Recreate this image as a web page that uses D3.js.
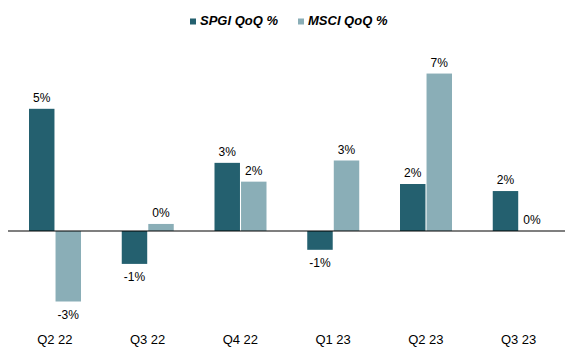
<!DOCTYPE html>
<html>
<head>
<meta charset="utf-8">
<script src="https://cdn.jsdelivr.net/npm/d3@7"></script>
<style>
  body { margin: 0; background: #fff; }
  svg text { font-family: "Liberation Sans", Arial, sans-serif; fill: #000; }
</style>
</head>
<body>
<div id="chart"></div>
<script>
// data (QoQ %)
var quarters = ["Q2 22", "Q3 22", "Q4 22", "Q1 23", "Q2 23", "Q3 23"];
var seriesNames = ["SPGI QoQ %", "MSCI QoQ %"];
var spgiValues = [5.2, -1.4, 2.9, -0.8, 2.0, 1.7];
var msciValues = [-3.0, 0.3, 2.1, 3.0, 6.7, 0.0];
var seriesColors = ["#24606f", "#8aaeb7"];

var width = 572, height = 352;

var svg = d3.select("#chart").append("svg")
    .attr("width", width)
    .attr("height", height);

var x0 = d3.scaleBand().domain(quarters).range([8.5, 565]);
var x1 = d3.scaleBand().domain(seriesNames).range([20.5, 72.5]).paddingInner(0.04);
var y = d3.scaleLinear().domain([-4, 7]).range([325, 66.5]);

var rows = [];
quarters.forEach(function (q, i) {
    rows.push({ q: q, s: seriesNames[0], v: spgiValues[i], c: seriesColors[0] });
    rows.push({ q: q, s: seriesNames[1], v: msciValues[i], c: seriesColors[1] });
});

// bars
svg.selectAll(".bar")
    .data(rows)
    .enter().append("rect")
    .attr("class", "bar")
    .attr("x", function (d) { return x0(d.q) + x1(d.s); })
    .attr("width", x1.bandwidth())
    .attr("y", function (d) { return Math.min(y(d.v), y(0)); })
    .attr("height", function (d) { return Math.abs(y(d.v) - y(0)); })
    .style("fill", function (d) { return d.c; });

// zero line
svg.append("line")
    .attr("x1", 8).attr("x2", 565)
    .attr("y1", y(0)).attr("y2", y(0))
    .attr("stroke", "#000")
    .attr("stroke-width", 1.2);

// value labels
svg.selectAll(".val")
    .data(rows)
    .enter().append("text")
    .attr("class", "val")
    .attr("x", function (d) { return x0(d.q) + x1(d.s) + x1.bandwidth() / 2; })
    .attr("y", function (d) { return d.v >= 0 ? y(d.v) - 7 : y(d.v) + 17; })
    .attr("text-anchor", "middle")
    .style("font-size", "12px")
    .text(function (d) { return Math.round(d.v) + "%"; });

// category labels
svg.selectAll(".cat")
    .data(quarters)
    .enter().append("text")
    .attr("class", "cat")
    .attr("x", function (d) { return x0(d) + x0.bandwidth() / 2; })
    .attr("y", 344)
    .attr("text-anchor", "middle")
    .style("font-size", "13px")
    .text(function (d) { return d; });

// legend
var legendX = [190, 298];
var legend = svg.selectAll(".legend")
    .data(seriesNames)
    .enter().append("g")
    .attr("class", "legend")
    .attr("transform", function (d, i) { return "translate(" + legendX[i] + ",0)"; });

legend.append("rect")
    .attr("x", 0).attr("y", 18.5)
    .attr("width", 6).attr("height", 6)
    .style("fill", function (d, i) { return seriesColors[i]; });

legend.append("text")
    .attr("x", 10).attr("y", 25)
    .style("font-size", "13px")
    .style("font-weight", "bold")
    .style("font-style", "italic")
    .text(function (d) { return d; });
</script>
</body>
</html>
